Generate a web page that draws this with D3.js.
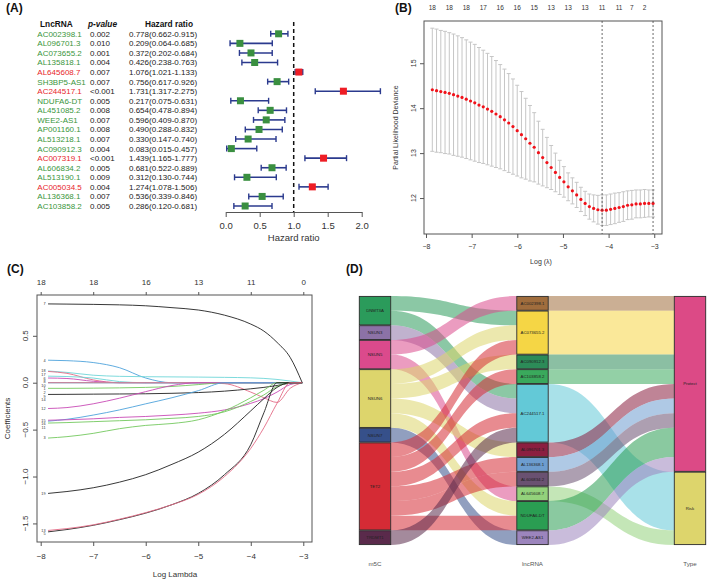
<!DOCTYPE html>
<html><head><meta charset="utf-8">
<script src="https://cdn.jsdelivr.net/npm/d3@7"></script>
<style>body{margin:0;background:#fff;}svg{display:block;font-family:"Liberation Sans",Arial,sans-serif;}</style>
</head><body><svg id="c" width="709" height="580"></svg>
<script>
// ================= DATA =================
// Panel A: univariate Cox forest plot
const lncNames = ["AC002398.1","AL096701.3","AC073655.2","AL135818.1","AL645608.7","SH3BP5-AS1","AC244517.1","NDUFA6-DT","AL451085.2","WEE2-AS1","AP001160.1","AL513218.1","AC090912.3","AC007319.1","AL606834.2","AL513190.1","AC005034.5","AL136368.1","AC103858.2"];
const pValues = ["0.002","0.010","0.001","0.004","0.007","0.007","<0.001","0.005","0.008","0.007","0.008","0.007","0.004","<0.001","0.005","0.009","0.004","0.007","0.005"];
const hrValues = [0.778,0.209,0.372,0.426,1.076,0.756,1.731,0.217,0.654,0.596,0.490,0.330,0.083,1.439,0.681,0.312,1.274,0.536,0.286];
const hrLower  = [0.662,0.064,0.202,0.238,1.021,0.617,1.317,0.075,0.478,0.409,0.288,0.147,0.015,1.165,0.522,0.130,1.078,0.339,0.120];
const hrUpper  = [0.915,0.685,0.684,0.763,1.133,0.926,2.275,0.631,0.894,0.870,0.832,0.740,0.457,1.777,0.889,0.744,1.506,0.846,0.681];
const hrTicks = [0,0.5,1,1.5,2];

// Panel B: cross-validation curve
const cvLogLambda = [-7.862,-7.769,-7.676,-7.583,-7.490,-7.397,-7.304,-7.211,-7.118,-7.025,-6.932,-6.839,-6.746,-6.653,-6.560,-6.467,-6.374,-6.281,-6.188,-6.095,-6.002,-5.909,-5.816,-5.723,-5.630,-5.537,-5.444,-5.351,-5.258,-5.165,-5.072,-4.979,-4.886,-4.793,-4.700,-4.607,-4.514,-4.421,-4.328,-4.235,-4.142,-4.049,-3.956,-3.863,-3.770,-3.677,-3.584,-3.491,-3.398,-3.305,-3.212,-3.119,-3.026];
const cvMean = [14.41,14.39,14.37,14.35,14.33,14.30,14.27,14.24,14.20,14.16,14.12,14.07,14.03,13.98,13.93,13.87,13.81,13.74,13.67,13.59,13.50,13.41,13.32,13.22,13.13,13.01,12.90,12.79,12.68,12.57,12.46,12.36,12.25,12.16,12.07,11.97,11.88,11.81,11.77,11.74,11.73,11.73,11.75,11.77,11.79,11.81,11.84,11.85,11.87,11.87,11.88,11.88,11.88];
const cvSE = [1.37,1.37,1.36,1.36,1.35,1.35,1.34,1.33,1.32,1.31,1.30,1.28,1.26,1.24,1.22,1.19,1.16,1.13,1.10,1.06,1.01,0.96,0.90,0.84,0.77,0.70,0.63,0.56,0.49,0.43,0.38,0.34,0.31,0.29,0.28,0.27,0.27,0.28,0.30,0.32,0.34,0.34,0.34,0.34,0.33,0.33,0.32,0.32,0.31,0.31,0.31,0.30,0.30];
const nzAt = [-7.862,-7.490,-7.118,-6.746,-6.374,-6.002,-5.630,-5.258,-4.886,-4.514,-4.142,-3.770,-3.491,-3.212];
const nzText = ["18","18","18","17","16","16","15","13","13","13","11","11","7","2"];
const lambdaMarks = [-4.142,-3.026];
const cvXTicks = [-8,-7,-6,-5,-4,-3];
const cvYTicks = [12,13,14,15];

// Panel C: LASSO coefficient paths
const coefKnots = [-7.86,-7.5,-7,-6.5,-6,-5.5,-5,-4.5,-4,-3.75,-3.5,-3.25,-3.02];
const coefLabels = ["7","4","18","17","6","8","10","1","2","9","14","12","16","15","11","3","19","5","13"];
const coefValues = [
 [0.84,0.838,0.835,0.83,0.82,0.80,0.775,0.72,0.625,0.55,0.43,0.27,0],
 [0.24,0.235,0.215,0.16,0.05,0,0,0,0,0,0,0,0],
 [0.125,0.11,0.08,0.068,0.064,0.062,0.06,0.057,0.052,0.046,0.035,0.018,0],
 [0.12,0.10,0.03,0,0,0,0,0,0,0,0,0,0],
 [0.07,0.066,0.05,0.012,0,0,0,0,0,0,0,0,0],
 [0.05,0.045,0.015,0,0,0,0,0,0,0,0,0,0],
 [0,0,0,0,0,0,0,0,0,0,0,0,0],
 [0,0,0,0,0,0,0,0,0,0,0,0,0],
 [0,0,0,0,0,0,0,-0.01,-0.10,-0.16,-0.21,-0.06,0],
 [-0.06,-0.06,-0.058,-0.055,-0.05,-0.04,-0.02,0,0,0,0,0,0],
 [-0.125,-0.124,-0.122,-0.12,-0.118,-0.113,-0.105,-0.09,-0.065,-0.05,-0.03,-0.005,0],
 [-0.275,-0.265,-0.225,-0.165,-0.095,-0.03,0,0,0,0,0,0,0],
 [-0.41,-0.39,-0.345,-0.29,-0.225,-0.16,-0.085,0,0,0,0,0,0],
 [-0.40,-0.395,-0.385,-0.37,-0.36,-0.345,-0.325,-0.29,-0.22,-0.17,-0.10,-0.02,0],
 [-0.43,-0.425,-0.415,-0.405,-0.395,-0.38,-0.36,-0.31,-0.20,-0.13,-0.04,0,0],
 [-0.59,-0.575,-0.54,-0.49,-0.455,-0.435,-0.395,-0.30,-0.16,-0.08,0,0,0],
 [-1.18,-1.16,-1.12,-1.06,-0.98,-0.87,-0.74,-0.55,-0.30,-0.17,-0.05,0,0],
 [-1.59,-1.565,-1.52,-1.46,-1.39,-1.30,-1.18,-0.98,-0.66,-0.32,0,0,0],
 [-1.575,-1.555,-1.515,-1.455,-1.385,-1.30,-1.19,-1.00,-0.70,-0.48,-0.22,0,0]
];
const coefXTicks = [-8,-7,-6,-5,-4,-3];
const coefTopText = ["18","18","16","13","11","0"];
const coefYTicks = [-1.5,-1.0,-0.5,0.0,0.5];

// Panel D: sankey
const m5cNodes = ["DNMT3A","NSUN3","NSUN5","NSUN6","NSUN7","TET2","TRDMT1"];
const lncNodes = ["AC002398.1","AC073655.2","AC090912.3","AC103858.2","AC244517.1","AL096701.3","AL136368.1","AL606834.2","AL645608.7","NDUFA6-DT","WEE2-AS1"];
const typeNodes = ["Protect","Risk"];
const linkSource = ["DNMT3A","DNMT3A","NSUN3","NSUN5","NSUN5","NSUN6","NSUN6","NSUN6","NSUN6","NSUN7","TET2","TET2","TET2","TET2","TET2","TET2","TRDMT1"];
const linkTarget = ["AC073655.2","AC244517.1","AC244517.1","AC002398.1","AL645608.7","AC073655.2","AC090912.3","AL096701.3","NDUFA6-DT","WEE2-AS1","AC073655.2","AC103858.2","AC244517.1","AL136368.1","AL606834.2","NDUFA6-DT","AC244517.1"];
const lncType = ["Protect","Protect","Protect","Protect","Risk","Protect","Protect","Protect","Risk","Protect","Protect"];
const axisNames = ["m5C","lncRNA","Type"];

// ================= STYLE =================
const m5cColors = ["#2b9b5b","#8c72a6","#db4a8c","#ddd56c","#36508a","#d52b35","#5a2a4b"];
const lncColors = ["#a06d3d","#f5d645","#2c8b58","#3aa95c","#63c9d7","#8b1f40","#6d9dcf","#6a5171","#93d27b","#2a9d52","#9c85bd"];
const typeColors = ["#dc4a86","#ddd56c"];
const coefColors = ["#222","#4fa3dc","#6fd6d8","#e36c86","#6fd6d8","#c94bb6","#4fa3dc","#6fd6d8","#e36c86","#74c95f","#222","#c94bb6","#4fa3dc","#c94bb6","#74c95f","#74c95f","#222","#222","#e36c86"];

const svg = d3.select("#c");
function panelLabel(t,x,y){svg.append("text").attr("x",x).attr("y",y).attr("font-size",12).attr("font-weight","bold").attr("fill","#111").text(t);}

// ================= PANEL A =================
panelLabel("(A)",6,12);
const gA = svg.append("g");
const xHR = d3.scaleLinear().domain([0,2]).range([225.7,361.7]);
const yRow = d3.scaleLinear().domain([0,lncNames.length-1]).range([33.8,206]);
gA.append("text").attr("x",40).attr("y",27).attr("font-size",8.3).attr("font-weight","bold").attr("fill","#111").text("LncRNA");
gA.append("text").attr("x",88).attr("y",27).attr("font-size",8.3).attr("font-weight","bold").attr("font-style","italic").attr("fill","#111").text("p-value");
gA.append("text").attr("x",145).attr("y",27).attr("font-size",8.3).attr("font-weight","bold").attr("fill","#111").text("Hazard ratio");
const rows = gA.selectAll("g.row").data(lncNames.map((n,i)=>i)).join("g");
rows.append("text").attr("x",37.3).attr("y",i=>yRow(i)+2.9).attr("font-size",8).attr("fill",i=>hrValues[i]>1?"#e8262b":"#3a963c").text(i=>lncNames[i]);
rows.append("text").attr("x",90).attr("y",i=>yRow(i)+2.9).attr("font-size",8).attr("fill","#222").text(i=>pValues[i]);
rows.append("text").attr("x",129).attr("y",i=>yRow(i)+2.9).attr("font-size",8).attr("fill","#222")
  .text(i=>hrValues[i].toFixed(3)+"("+hrLower[i].toFixed(3)+"-"+hrUpper[i].toFixed(3)+")");
gA.append("line").attr("x1",xHR(1)).attr("x2",xHR(1)).attr("y1",22).attr("y2",212).attr("stroke","#111").attr("stroke-width",1.5).attr("stroke-dasharray","4,3");
const navy="#2b3a8e";
rows.append("line").attr("x1",i=>xHR(hrLower[i])).attr("x2",i=>xHR(hrUpper[i])).attr("y1",i=>yRow(i)).attr("y2",i=>yRow(i)).attr("stroke",navy).attr("stroke-width",1.6);
rows.append("line").attr("x1",i=>xHR(hrLower[i])).attr("x2",i=>xHR(hrLower[i])).attr("y1",i=>yRow(i)-3).attr("y2",i=>yRow(i)+3).attr("stroke",navy).attr("stroke-width",1.4);
rows.append("line").attr("x1",i=>xHR(hrUpper[i])).attr("x2",i=>xHR(hrUpper[i])).attr("y1",i=>yRow(i)-3).attr("y2",i=>yRow(i)+3).attr("stroke",navy).attr("stroke-width",1.4);
rows.append("rect").attr("x",i=>xHR(hrValues[i])-3.5).attr("y",i=>yRow(i)-3.5).attr("width",7).attr("height",7)
  .attr("fill",i=>hrValues[i]>1?"#ee1d25":"#3a8f40");
const axA = gA.append("g").attr("transform","translate(0,212)")
  .call(d3.axisBottom(xHR).tickValues(hrTicks).tickFormat(d3.format(".1f")).tickSize(5).tickSizeOuter(0).tickPadding(5.5));
axA.selectAll("text").attr("font-size",9.5).attr("fill","#333").attr("font-family",null);
axA.selectAll("line,path").attr("stroke","#555");
gA.append("text").attr("x",xHR(1)).attr("y",240.5).attr("text-anchor","middle").attr("font-size",9.5).attr("fill","#333").text("Hazard ratio");

// ================= PANEL B =================
panelLabel("(B)",395,12);
const gB = svg.append("g");
const xB = d3.scaleLinear().domain([-8.044,-2.83]).range([424,662]);
const yB = d3.scaleLinear().domain([11.2,15.94]).range([234,21]);
gB.append("rect").attr("x",424).attr("y",21).attr("width",238).attr("height",213).attr("fill","none").attr("stroke","#555").attr("stroke-width",1);
const cvIdx = cvLogLambda.map((d,i)=>i);
gB.selectAll("line.bar").data(cvIdx).join("line").attr("x1",i=>xB(cvLogLambda[i])).attr("x2",i=>xB(cvLogLambda[i]))
  .attr("y1",i=>yB(cvMean[i]-cvSE[i])).attr("y2",i=>yB(cvMean[i]+cvSE[i])).attr("stroke","#c6c6c6").attr("stroke-width",1);
gB.selectAll("line.capU").data(cvIdx).join("line").attr("x1",i=>xB(cvLogLambda[i])-2).attr("x2",i=>xB(cvLogLambda[i])+2)
  .attr("y1",i=>yB(cvMean[i]+cvSE[i])).attr("y2",i=>yB(cvMean[i]+cvSE[i])).attr("stroke","#c6c6c6").attr("stroke-width",1);
gB.selectAll("line.capL").data(cvIdx).join("line").attr("x1",i=>xB(cvLogLambda[i])-2).attr("x2",i=>xB(cvLogLambda[i])+2)
  .attr("y1",i=>yB(cvMean[i]-cvSE[i])).attr("y2",i=>yB(cvMean[i]-cvSE[i])).attr("stroke","#c6c6c6").attr("stroke-width",1);
gB.selectAll("circle").data(cvIdx).join("circle").attr("cx",i=>xB(cvLogLambda[i])).attr("cy",i=>yB(cvMean[i])).attr("r",1.6).attr("fill","#f0121a");
gB.selectAll("line.vl").data(lambdaMarks).join("line").attr("x1",d=>xB(d)).attr("x2",d=>xB(d)).attr("y1",21).attr("y2",234)
  .attr("stroke","#444").attr("stroke-width",0.8).attr("stroke-dasharray","2,2");
const axBx = gB.append("g").attr("transform","translate(0,234)")
  .call(d3.axisBottom(xB).tickValues(cvXTicks).tickFormat(d3.format("d")).tickSize(4).tickPadding(6.5));
axBx.select(".domain").remove();
axBx.selectAll("text").attr("font-size",7).attr("fill","#333").attr("font-family",null);
axBx.selectAll("line").attr("stroke","#555");
const axBy = gB.append("g").attr("transform","translate(424,0)").call(d3.axisLeft(yB).tickValues(cvYTicks).tickSize(4));
axBy.select(".domain").remove(); axBy.selectAll("text").remove(); axBy.selectAll("line").attr("stroke","#555");
gB.selectAll("text.yl").data(cvYTicks).join("text").attr("transform",d=>`translate(415.5,${yB(d)}) rotate(-90)`)
  .attr("text-anchor","middle").attr("font-size",7).attr("fill","#333").text(d=>d);
gB.selectAll("text.nz").data(nzAt).join("text").attr("x",d=>xB(d)).attr("y",10.3).attr("text-anchor","middle")
  .attr("font-size",6.5).attr("fill","#333").text((d,i)=>nzText[i]);
gB.append("text").attr("transform","translate(397.5,127.5) rotate(-90)").attr("text-anchor","middle").attr("font-size",7).attr("fill","#333").text("Partial Likelihood Deviance");
gB.append("text").attr("x",541).attr("y",264).attr("text-anchor","middle").attr("font-size",7).attr("fill","#333").text("Log (λ)");

// ================= PANEL C =================
panelLabel("(C)",7,273);
const gC = svg.append("g");
const xC = d3.scaleLinear().domain([-8.0705,-2.834]).range([37,312]);
const yC = d3.scaleLinear().domain([-1.698,0.935]).range([542,295]);
gC.append("rect").attr("x",37).attr("y",295).attr("width",275).attr("height",247).attr("fill","none").attr("stroke","#555");
const lineC = d3.line().x((d,i)=>xC(coefKnots[i])).y(d=>yC(d)).curve(d3.curveMonotoneX);
gC.selectAll("path.cp").data(coefValues).join("path").attr("d",d=>lineC(d)).attr("fill","none")
  .attr("stroke",(d,i)=>coefColors[i]).attr("stroke-width",1).attr("stroke-opacity",0.9);
// start labels, nudged apart so they do not sit on top of each other
const labPos = coefValues.map((d,i)=>({i:i,y:yC(d[0])})).sort((a,b)=>a.y-b.y);
for(let k=1;k<labPos.length;k++){ if(labPos[k].y-labPos[k-1].y<3.6) labPos[k].y=labPos[k-1].y+3.6; }
gC.selectAll("text.cl").data(labPos).join("text").attr("x",xC(coefKnots[0])-2.5).attr("y",p=>p.y+1.4)
  .attr("text-anchor","end").attr("font-size",3.8).attr("fill","#333").text(p=>coefLabels[p.i]);
const axCx = gC.append("g").attr("transform","translate(0,542)").call(d3.axisBottom(xC).tickValues(coefXTicks).tickFormat(d3.format("d")).tickSize(4).tickPadding(7));
axCx.select(".domain").remove(); axCx.selectAll("text").attr("font-size",8).attr("fill","#333").attr("font-family",null); axCx.selectAll("line").attr("stroke","#555");
const axCt = gC.append("g").attr("transform","translate(0,295)").call(d3.axisTop(xC).tickValues(coefXTicks).tickSize(3).tickPadding(7).tickFormat((d,i)=>coefTopText[i]));
axCt.select(".domain").remove(); axCt.selectAll("text").attr("font-size",8).attr("fill","#333").attr("font-family",null); axCt.selectAll("line").attr("stroke","#555");
const axCy = gC.append("g").attr("transform","translate(37,0)").call(d3.axisLeft(yC).tickValues(coefYTicks).tickSize(4));
axCy.select(".domain").remove(); axCy.selectAll("text").remove(); axCy.selectAll("line").attr("stroke","#555");
gC.selectAll("text.yl").data(coefYTicks).join("text").attr("transform",d=>`translate(28,${yC(d)}) rotate(-90)`)
  .attr("text-anchor","middle").attr("font-size",8).attr("fill","#333").text(d=>d3.format(".1f")(d));
gC.append("text").attr("transform","translate(10,418.5) rotate(-90)").attr("text-anchor","middle").attr("font-size",8).attr("fill","#333").text("Coefficients");
gC.append("text").attr("x",175).attr("y",577).attr("text-anchor","middle").attr("font-size",8).attr("fill","#333").text("Log Lambda");

// ================= PANEL D =================
panelLabel("(D)",346,273);
const gD = svg.append("g");
const xD = d3.scalePoint().domain(axisNames).range([359.3,674.3]);
const nodeW = 31.4;
const yD = d3.scaleLinear().domain([0,linkSource.length]).range([296,545]);
function buildColumn(names, counts, colors, col){
  let cum=0; return names.map((n,i)=>{const nd={name:n,v:counts[i],c0:cum,color:colors[i],col:col,outOff:cum,inOff:cum}; cum+=counts[i]; return nd;});
}
const m5cCounts = m5cNodes.map(n=>linkSource.filter(s=>s===n).length);
const lncCounts = lncNodes.map(n=>linkTarget.filter(t=>t===n).length);
const typeCounts = typeNodes.map(t=>d3.sum(lncNodes.map((n,i)=>lncType[i]===t?lncCounts[i]:0)));
const colL = buildColumn(m5cNodes,m5cCounts,m5cColors,0);
const colM = buildColumn(lncNodes,lncCounts,lncColors,1);
const colR = buildColumn(typeNodes,typeCounts,typeColors,2);
const byName = {}; [...colL,...colM,...colR].forEach(n=>byName[n.name]=n);
let links1 = linkSource.map((s,i)=>({s:byName[s],t:byName[linkTarget[i]],v:1}));
links1.slice().sort((a,b)=>a.s.c0-b.s.c0 || a.t.c0-b.t.c0).forEach(l=>{l.sy=l.s.outOff; l.s.outOff+=l.v;});
links1.slice().sort((a,b)=>a.t.c0-b.t.c0 || a.s.c0-b.s.c0).forEach(l=>{l.ty=l.t.inOff; l.t.inOff+=l.v;});
let links2 = lncNodes.map((n,i)=>({s:byName[n],t:byName[lncType[i]],v:lncCounts[i]}));
links2.forEach(l=>{l.sy=l.s.c0;});
links2.slice().sort((a,b)=>a.t.c0-b.t.c0 || a.s.c0-b.s.c0).forEach(l=>{l.ty=l.t.inOff; l.t.inOff+=l.v;});
function ribbon(l){
  const x0 = xD(axisNames[l.s.col])+nodeW, x1 = xD(axisNames[l.t.col]), xm=(x0+x1)/2;
  const s0=yD(l.sy), s1=yD(l.sy+l.v), t0=yD(l.ty), t1=yD(l.ty+l.v);
  return `M${x0},${s0}C${xm},${s0} ${xm},${t0} ${x1},${t0}L${x1},${t1}C${xm},${t1} ${xm},${s1} ${x0},${s1}Z`;
}
gD.selectAll("path.l").data([...links1,...links2]).join("path").attr("d",ribbon).attr("fill",l=>l.s.color).attr("fill-opacity",0.55);
const allNodes=[...colL,...colM,...colR];
gD.selectAll("rect.n").data(allNodes).join("rect").attr("x",n=>xD(axisNames[n.col])).attr("y",n=>yD(n.c0)+0.4)
  .attr("width",nodeW).attr("height",n=>yD(n.c0+n.v)-yD(n.c0)-0.8).attr("fill",n=>n.color).attr("stroke","#2a2a2a").attr("stroke-width",0.9);
gD.selectAll("text.n").data(allNodes).join("text").attr("x",n=>xD(axisNames[n.col])+nodeW/2).attr("y",n=>yD(n.c0+n.v/2)+1.5)
  .attr("text-anchor","middle").attr("font-size",4.3).attr("fill","#222").text(n=>n.name);
gD.selectAll("text.ax").data(axisNames).join("text").attr("x",d=>xD(d)+nodeW/2).attr("y",565.5).attr("text-anchor","middle")
  .attr("font-size",6.2).attr("fill","#555").text(d=>d);
</script></body></html>
